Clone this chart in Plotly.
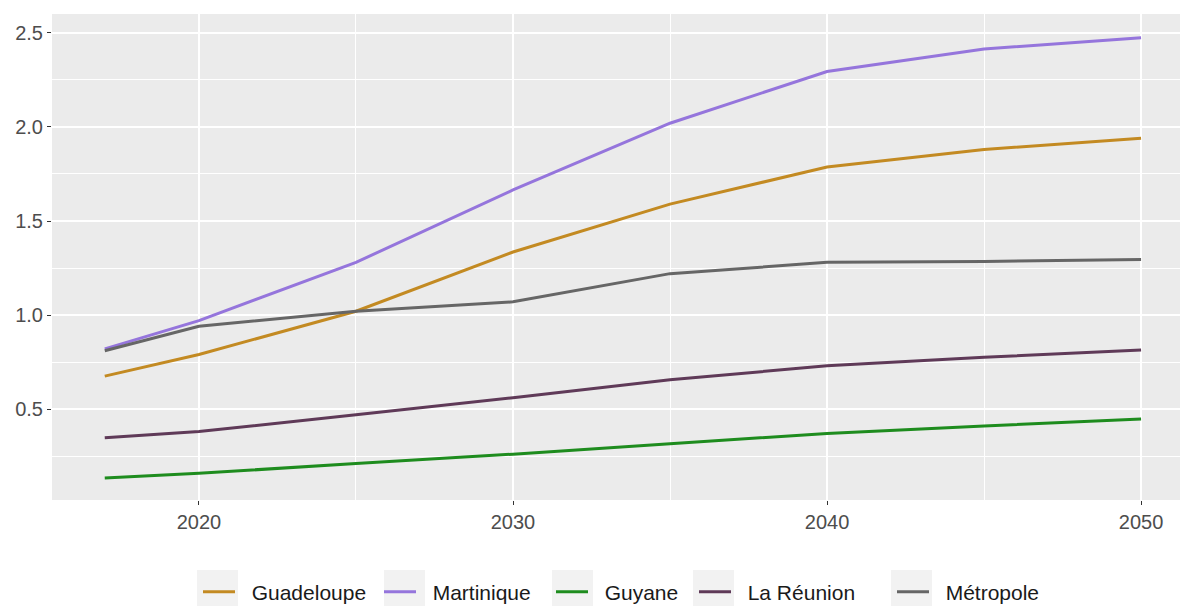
import plotly.graph_objects as go

years = [2017, 2020, 2025, 2030, 2035, 2040, 2045, 2050]
guadeloupe = [0.675, 0.79, 1.02, 1.335, 1.59, 1.787, 1.88, 1.94]
martinique = [0.82, 0.97, 1.28, 1.665, 2.02, 2.295, 2.415, 2.475]
guyane = [0.133, 0.158, 0.21, 0.26, 0.315, 0.37, 0.41, 0.447]
reunion = [0.347, 0.38, 0.47, 0.56, 0.655, 0.73, 0.775, 0.814]
metropole = [0.81, 0.94, 1.02, 1.07, 1.22, 1.28, 1.285, 1.295]

series_names = ["Guadeloupe", "Martinique", "Guyane", "La Réunion", "Métropole"]
series_values = [guadeloupe, martinique, guyane, reunion, metropole]
series_colors = ["#C38A22", "#9575DC", "#1E8C1E", "#5F3A58", "#666666"]

x_ticks = [2020, 2030, 2040, 2050]
y_ticks = [0.5, 1.0, 1.5, 2.0, 2.5]
y_tick_text = ["0.5", "1.0", "1.5", "2.0", "2.5"]

# layout geometry in page pixels (body margin removed by post_script)
PLOT_L, PLOT_R, PLOT_T, PLOT_B = 52, 1180, 14, 500
W, H = 1184, 606
plot_w = PLOT_R - PLOT_L

def px_x(px):
    return (px - PLOT_L) / plot_w

def px_y_paper(py):
    return (PLOT_B - py) / (PLOT_B - PLOT_T)

legend_key_starts = [203, 384, 556, 699, 897]
legend_box_lefts = [197, 384, 552, 693, 891]
LEGEND_CY = 592

fig = go.Figure()
layout_legends = {}
for i, (name, vals, color) in enumerate(zip(series_names, series_values, series_colors)):
    lname = "legend" if i == 0 else f"legend{i+1}"
    fig.add_trace(go.Scatter(x=years, y=vals, mode="lines", name="\u00a0\u00a0" + name,
                             line=dict(color=color, width=3), legend=lname))
    layout_legends[lname] = dict(
        orientation="h", x=px_x(legend_key_starts[i] - 5), xanchor="left", xref="paper",
        y=1 - LEGEND_CY / H, yanchor="middle", yref="container", itemwidth=32,
        font=dict(size=21, color="#1A1A1A", family="Liberation Sans, Arial, sans-serif"),
        bgcolor="rgba(0,0,0,0)")

shapes = []
for bl in legend_box_lefts:
    shapes.append(dict(type="rect", xref="paper", yref="paper",
                       x0=px_x(bl), x1=px_x(bl + 41), y0=px_y_paper(614), y1=px_y_paper(570),
                       fillcolor="#F2F2F2", line=dict(width=0), layer="below"))

grid_minor_x = [2015, 2025, 2035, 2045]
grid_minor_y = [0.25, 0.75, 1.25, 1.75, 2.25]

fig.update_layout(
    width=W, height=H,
    margin=dict(l=PLOT_L, r=W - PLOT_R, t=PLOT_T, b=H - PLOT_B),
    paper_bgcolor="white",
    plot_bgcolor="#EBEBEB",
    font=dict(family="Liberation Sans, Arial, sans-serif", size=20, color="#4D4D4D"),
    showlegend=True,
    shapes=shapes,
    xaxis=dict(range=[2015.32, 2051.24], tickvals=x_ticks, ticks="outside", ticklen=4,
               tickcolor="#333333", tickwidth=1.2, gridcolor="white", gridwidth=1.6,
               zeroline=False, showline=False, automargin=False,
               minor=dict(tickvals=grid_minor_x, showgrid=True, gridcolor="white", gridwidth=0.8),
               tickfont=dict(size=20, color="#4D4D4D")),
    yaxis=dict(range=[0.016, 2.601], tickvals=y_ticks, ticktext=y_tick_text, ticks="outside",
               ticklen=4, tickcolor="#333333", tickwidth=1.2, gridcolor="white", gridwidth=1.6,
               zeroline=False, showline=False, automargin=False,
               minor=dict(tickvals=grid_minor_y, showgrid=True, gridcolor="white", gridwidth=0.8),
               tickfont=dict(size=20, color="#4D4D4D")),
    **layout_legends,
)

fig.write_html("out.html", config={"displayModeBar": False},
               post_script="document.body.style.margin='0';document.body.style.overflow='hidden';")
